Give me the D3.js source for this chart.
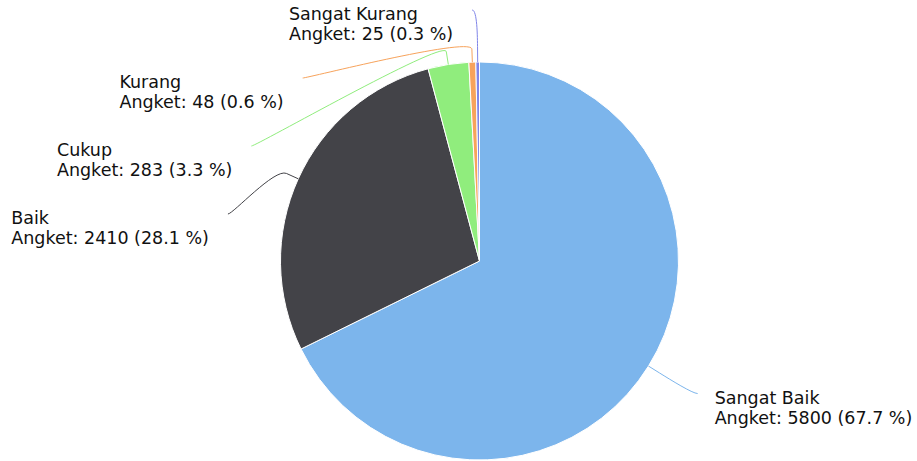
<!DOCTYPE html>
<html>
<head>
<meta charset="utf-8">
<script src="https://cdn.jsdelivr.net/npm/d3@7"></script>
<style>
  body { margin: 0; background: #fff; }
  svg { display: block; font-family: "DejaVu Sans", sans-serif; }
</style>
</head>
<body>
<div class="vis"></div>
<script>
(function() {
  'use strict';

  var categories = ["Sangat Baik", "Baik", "Cukup", "Kurang", "Sangat Kurang"];
  var values = [5800, 2410, 283, 48, 25];
  var colors = ["#7cb5ec", "#434348", "#90ed7d", "#f7a35c", "#8085e9"];
  var seriesName = "Angket";

  var width = 917,
    height = 461,
    cx = 479.5,
    cy = 261,
    radius = 199,
    labelRadius = 251,
    breakOffset = 13,
    pad = 5,
    gap = 19,
    spacing = 68,
    topLimit = 10;

  var svg = d3.select('.vis').append('svg')
    .attr('width', width)
    .attr('height', height);

  var total = d3.sum(values);
  var fmt = d3.format('.1f');

  var data = categories.map(function(c, i) {
    return {name: c, value: values[i], color: colors[i]};
  });

  var pie = d3.pie()
    .sort(null)
    .value(function(d) { return d.value; });

  var arcs = pie(data);

  var arc = d3.arc()
    .innerRadius(0)
    .outerRadius(radius);

  var g = svg.append('g')
    .attr('transform', 'translate(' + cx + ',' + cy + ')');

  g.selectAll('.slice')
    .data(arcs)
    .enter()
    .append('path')
      .attr('class', 'slice')
      .attr('d', arc)
      .attr('fill', function(d) { return d.data.color; })
      .attr('stroke', '#fff')
      .attr('stroke-width', 1);

  function pt(a, r) {
    return {x: cx + r * Math.sin(a), y: cy - r * Math.cos(a)};
  }

  // label layout, highcharts-ish
  arcs.forEach(function(d) {
    d.mid = (d.startAngle + d.endAngle) / 2;
    d.left = d.mid > Math.PI;
    d.natY = cy - labelRadius * Math.cos(d.mid);
  });

  [true, false].forEach(function(side) {
    var group = arcs.filter(function(d) { return d.left === side; })
      .sort(function(a, b) { return a.natY - b.natY; });
    var prev = -Infinity;
    group.forEach(function(d) {
      d.ly = Math.max(d.natY, prev + spacing, topLimit);
      prev = d.ly;
      var dy = d.ly - cy;
      var dx = Math.sqrt(Math.max(0, labelRadius * labelRadius - dy * dy)) + pad;
      d.lx = side ? cx - dx : cx + dx;
    });
  });

  svg.selectAll('.connector')
    .data(arcs)
    .enter()
    .append('path')
      .attr('class', 'connector')
      .attr('fill', 'none')
      .attr('stroke', function(d) { return d.data.color; })
      .attr('stroke-width', 1)
      .attr('d', function(d) {
        var touch = pt(d.mid, radius),
          brk = pt(d.mid, radius + breakOffset);
        var p = d3.path();
        p.moveTo(d.lx, d.ly);
        p.bezierCurveTo(d.lx + (d.left ? 5 : -5), d.ly,
          2 * brk.x - touch.x, 2 * brk.y - touch.y,
          brk.x, brk.y);
        p.lineTo(touch.x, touch.y);
        return p.toString();
      });

  var labels = svg.selectAll('.label')
    .data(arcs)
    .enter()
    .append('text')
      .attr('class', 'label')
      .attr('font-size', 17.5)
      .attr('fill', '#111');

  labels.append('tspan')
    .attr('x', 0)
    .attr('y', function(d) { return d.ly + 10; })
    .text(function(d) { return d.data.name; });

  labels.append('tspan')
    .attr('x', 0)
    .attr('y', function(d) { return d.ly + 30; })
    .text(function(d) {
      return seriesName + ': ' + d.data.value + ' (' + fmt(d.data.value / total * 100) + ' %)';
    });

  // left-aligned text block, box placed beside the connector end
  labels.each(function(d) {
    var w = this.getBBox().width;
    var x0 = d.left ? d.lx - gap - w : d.lx + gap - 2;
    d3.select(this).selectAll('tspan').attr('x', x0);
  });
}());
</script>
</body>
</html>
